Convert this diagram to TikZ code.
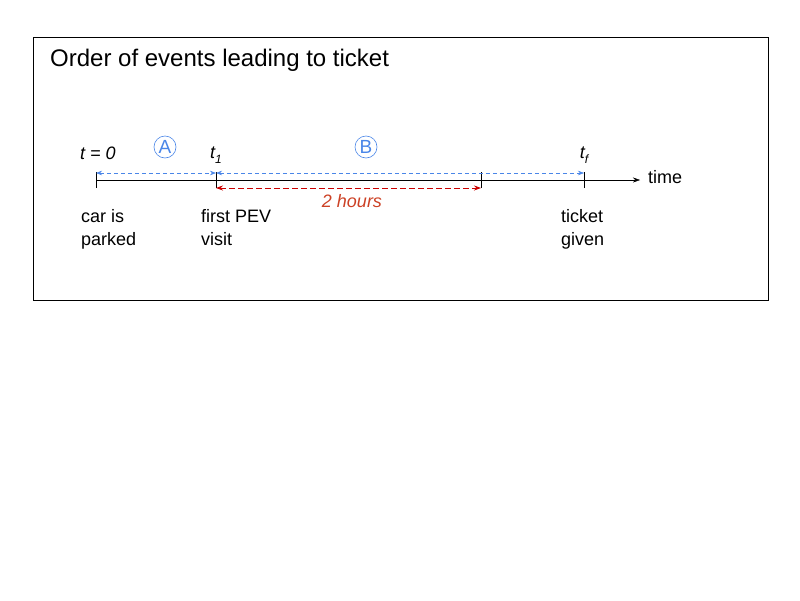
\documentclass[tikz,border=0pt]{standalone}
\usepackage{fontspec}
\setmainfont{Liberation Sans}
\usetikzlibrary{arrows.meta,positioning}
\definecolor{gblue}{RGB}{74,134,232}
\definecolor{gred}{RGB}{204,0,0}
\definecolor{hred}{RGB}{204,65,37}
\newcommand{\lowsub}[1]{\raisebox{-5pt}{\fontsize{12}{14}\selectfont #1}}
\begin{document}
\begin{tikzpicture}[
      x=1pt, y=-1pt,
      lbl/.style={font=\fontsize{18}{23}\selectfont, align=left, inner sep=0pt, anchor=north west},
      tlbl/.style={font=\fontsize{18}{20}\selectfont\itshape, inner sep=0pt},
      circ/.style={circle, draw=gblue, text=gblue, semithick, inner sep=1pt, minimum size=22pt, font=\fontsize{19}{20}\selectfont},
      span/.style={dash pattern=on 4pt off 3pt, draw=gblue, semithick, {Stealth[length=6pt,width=4.5pt]}-{Stealth[length=6pt,width=4.5pt]}},
      rspan/.style={dash pattern=on 6pt off 3pt, draw=gred, thick, {Stealth[length=7pt,width=5pt]}-{Stealth[length=7pt,width=5pt]}}
    ]
      \useasboundingbox (0,0) rectangle (800,600);
      \node[draw, thin, minimum width=735pt, minimum height=263pt, anchor=north west, inner sep=0pt] (frame) at (33,37) {};
      \node[font=\fontsize{24}{26}\selectfont, anchor=west, inner sep=0pt] (title) at (50,60) {Order of events leading to ticket};
      % timeline
      \coordinate (t0) at (96,180);
      \coordinate (t1) at (216,180);
      \coordinate (t2) at (481,180);
      \coordinate (tf) at (584,180);
      \coordinate (tend) at (640,180);
      \draw[-{Stealth[length=7pt,width=5pt]}] (t0) -- (tend);
      \foreach \p in {t0,t1,t2,tf}
        \draw ([yshift=-8pt]\p) -- ([yshift=8pt]\p);
      \node[font=\fontsize{18}{20}\selectfont, anchor=west, inner sep=0pt] (time) at (648,177) {time};
      % spans
      \draw[span] ([yshift=7pt]t0) -- ([yshift=7pt]t1);
      \draw[span] ([yshift=7pt]t1) -- ([yshift=7pt]tf);
      \draw[rspan] ([yshift=-8pt]t1) -- ([yshift=-8pt]t2);
      \node[tlbl, text=hred] (hours) at (352,201) {2 hours};
      % markers
      \node[tlbl, anchor=west] (lt0) at (80,153) {t = 0};
      \node[tlbl] (lt1) at (216,155) {t\lowsub{1}};
      \node[tlbl] (ltf) at (584,155) {t\lowsub{f}};
      \node[circ] (ca) at (165,147) {A};
      \node[circ] (cb) at (366,147) {B};
      % events
      \node[lbl] (e0) at (81,209) {car is\\parked};
      \node[lbl] (e1) at (201,209) {first PEV\\visit};
      \node[lbl] (ef) at (561,209) {ticket\\given};
    \end{tikzpicture}
\end{document}
